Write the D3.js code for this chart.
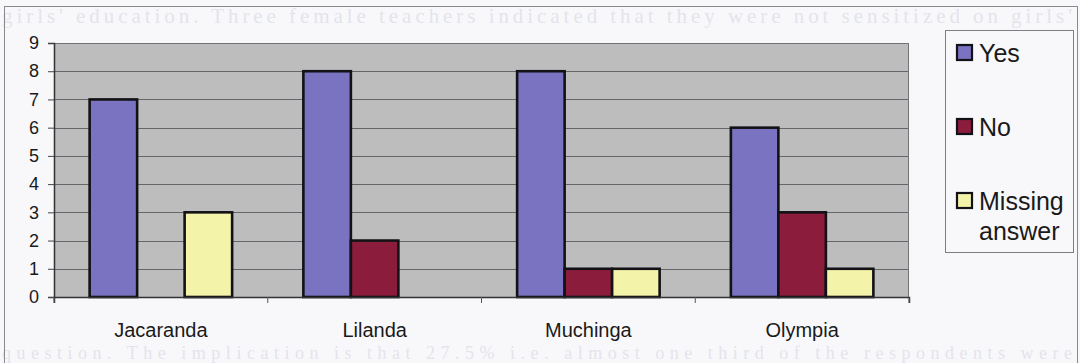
<!DOCTYPE html>
<html>
<head>
<meta charset="utf-8">
<script src="https://cdn.jsdelivr.net/npm/d3@7"></script>
<style>
  html, body { margin: 0; padding: 0; background: #f8f8fb; }
  svg { display: block; }
</style>
</head>
<body>
<svg id="chart" width="1080" height="363"></svg>
<script>
// ---- data ----
const categories = ["Jacaranda", "Lilanda", "Muchinga", "Olympia"];
const seriesNames = ["Yes", "No", "Missing answer"];
const yesValues = [7, 8, 8, 6];
const noValues = [0, 2, 1, 3];
const missingValues = [3, 0, 1, 1];
const yTicks = [0, 1, 2, 3, 4, 5, 6, 7, 8, 9];
const legendLines = [["Yes"], ["No"], ["Missing", "answer"]];
// faint show-through text of the scanned page
const pageText = [
  "girls' education. Three female teachers indicated that they were not sensitized on girls'",
  "question. The implication is that 27.5% i.e. almost one third of the respondents were"
];

const series = [yesValues, noValues, missingValues];
const colors = ["#7a73c1", "#8c1c3c", "#f4f3aa"];

const svg = d3.select("#chart");

// page show-through
const pageY = [23, 359];
svg.append("g").selectAll("text").data(pageText).join("text")
  .attr("x", 2).attr("y", (d, i) => pageY[i])
  .attr("textLength", 1070).attr("lengthAdjust", "spacing")
  .attr("font-family", "Liberation Serif, serif").attr("font-size", (d, i) => i === 0 ? 21 : 18)
  .attr("fill", "#e4e4eb").text(d => d);

// outer frame
svg.append("rect").attr("x", 4.5).attr("y", 6.5).attr("width", 1073).attr("height", 380)
  .attr("fill", "none").attr("stroke", "#8a8a8e").attr("stroke-width", 1);

const plot = { left: 54, right: 909, top: 43, bottom: 297 };

const x0 = d3.scaleBand().domain(categories).range([plot.left, plot.right]).paddingInner(0).paddingOuter(0);
const gapRatio = 1.5; // excel gap width 150%
const x1 = d3.scaleBand().domain(seriesNames)
  .range([0, x0.bandwidth() * 3 / (3 + gapRatio)]);
const groupOffset = x0.bandwidth() * (gapRatio / 2) / (3 + gapRatio);
const y = d3.scaleLinear().domain([0, 9]).range([plot.bottom, plot.top]);

// plot area
svg.append("rect").attr("x", plot.left).attr("y", plot.top)
  .attr("width", plot.right - plot.left).attr("height", plot.bottom - plot.top)
  .attr("fill", "#bdbdbe");

// gridlines
svg.append("g").selectAll("line").data(yTicks.filter(t => t > 0)).join("line")
  .attr("x1", plot.left).attr("x2", plot.right)
  .attr("y1", d => Math.round(y(d)) + 0.5).attr("y2", d => Math.round(y(d)) + 0.5)
  .attr("stroke", "#66666a").attr("stroke-width", 1);

// plot border
svg.append("rect").attr("x", plot.left + 0.5).attr("y", plot.top + 0.5)
  .attr("width", plot.right - plot.left - 1).attr("height", plot.bottom - plot.top)
  .attr("fill", "none").attr("stroke", "#737376").attr("stroke-width", 1);

// bars
const bars = [];
categories.forEach((c, ci) => {
  seriesNames.forEach((s, si) => {
    bars.push({ c, s, si, v: series[si][ci] });
  });
});
svg.append("g").selectAll("rect").data(bars.filter(d => d.v > 0)).join("rect")
  .attr("x", d => x0(d.c) + groupOffset + x1(d.s))
  .attr("y", d => y(d.v))
  .attr("width", x1.bandwidth())
  .attr("height", d => y(0) - y(d.v))
  .attr("fill", d => colors[d.si])
  .attr("stroke", "#121216").attr("stroke-width", 2.6);

// y axis
const yAxis = d3.axisLeft(y).tickValues(yTicks).tickSize(6).tickPadding(9).tickFormat(d3.format("d"));
const gy = svg.append("g").attr("transform", `translate(${plot.left},0)`).call(yAxis);
gy.select(".domain").attr("stroke", "#333").attr("stroke-width", 1.5);
gy.selectAll(".tick line").attr("stroke", "#444");
gy.selectAll(".tick text").attr("font-family", "Liberation Sans, Arial, sans-serif")
  .attr("font-size", 18).attr("fill", "#1a1a1a");

// x axis
const xAxis = d3.axisBottom(x0).tickSize(6).tickPadding(20).tickSizeOuter(6);
const gx = svg.append("g").attr("transform", `translate(0,${plot.bottom})`).call(xAxis);
gx.select(".domain").attr("stroke", "#333").attr("stroke-width", 1.5);
gx.selectAll(".tick line").attr("stroke", "#555")
  .attr("transform", () => `translate(${x0.bandwidth() / 2},0)`);
gx.selectAll(".tick text").attr("font-family", "Liberation Sans, Arial, sans-serif")
  .attr("font-size", 20).attr("fill", "#1a1a1a");
gx.append("line").attr("x1", plot.left).attr("x2", plot.left).attr("y1", 0).attr("y2", 6).attr("stroke", "#555");

// legend
const lg = svg.append("g");
lg.append("rect").attr("x", 945.5).attr("y", 30.5).attr("width", 128).attr("height", 222)
  .attr("fill", "none").attr("stroke", "#7d7d82").attr("stroke-width", 1);
const legY = [45, 119, 193];
legendLines.forEach((lines, i) => {
  lg.append("rect").attr("x", 957).attr("y", legY[i]).attr("width", 15).attr("height", 15)
    .attr("fill", colors[i]).attr("stroke", "#121216").attr("stroke-width", 2.2);
  lines.forEach((t, j) => {
    lg.append("text").attr("x", 979).attr("y", legY[i] + 16.5 + j * 30)
      .attr("font-family", "Liberation Sans, Arial, sans-serif").attr("font-size", 25)
      .attr("fill", "#1a1a1a").text(t);
  });
});
</script>
</body>
</html>
